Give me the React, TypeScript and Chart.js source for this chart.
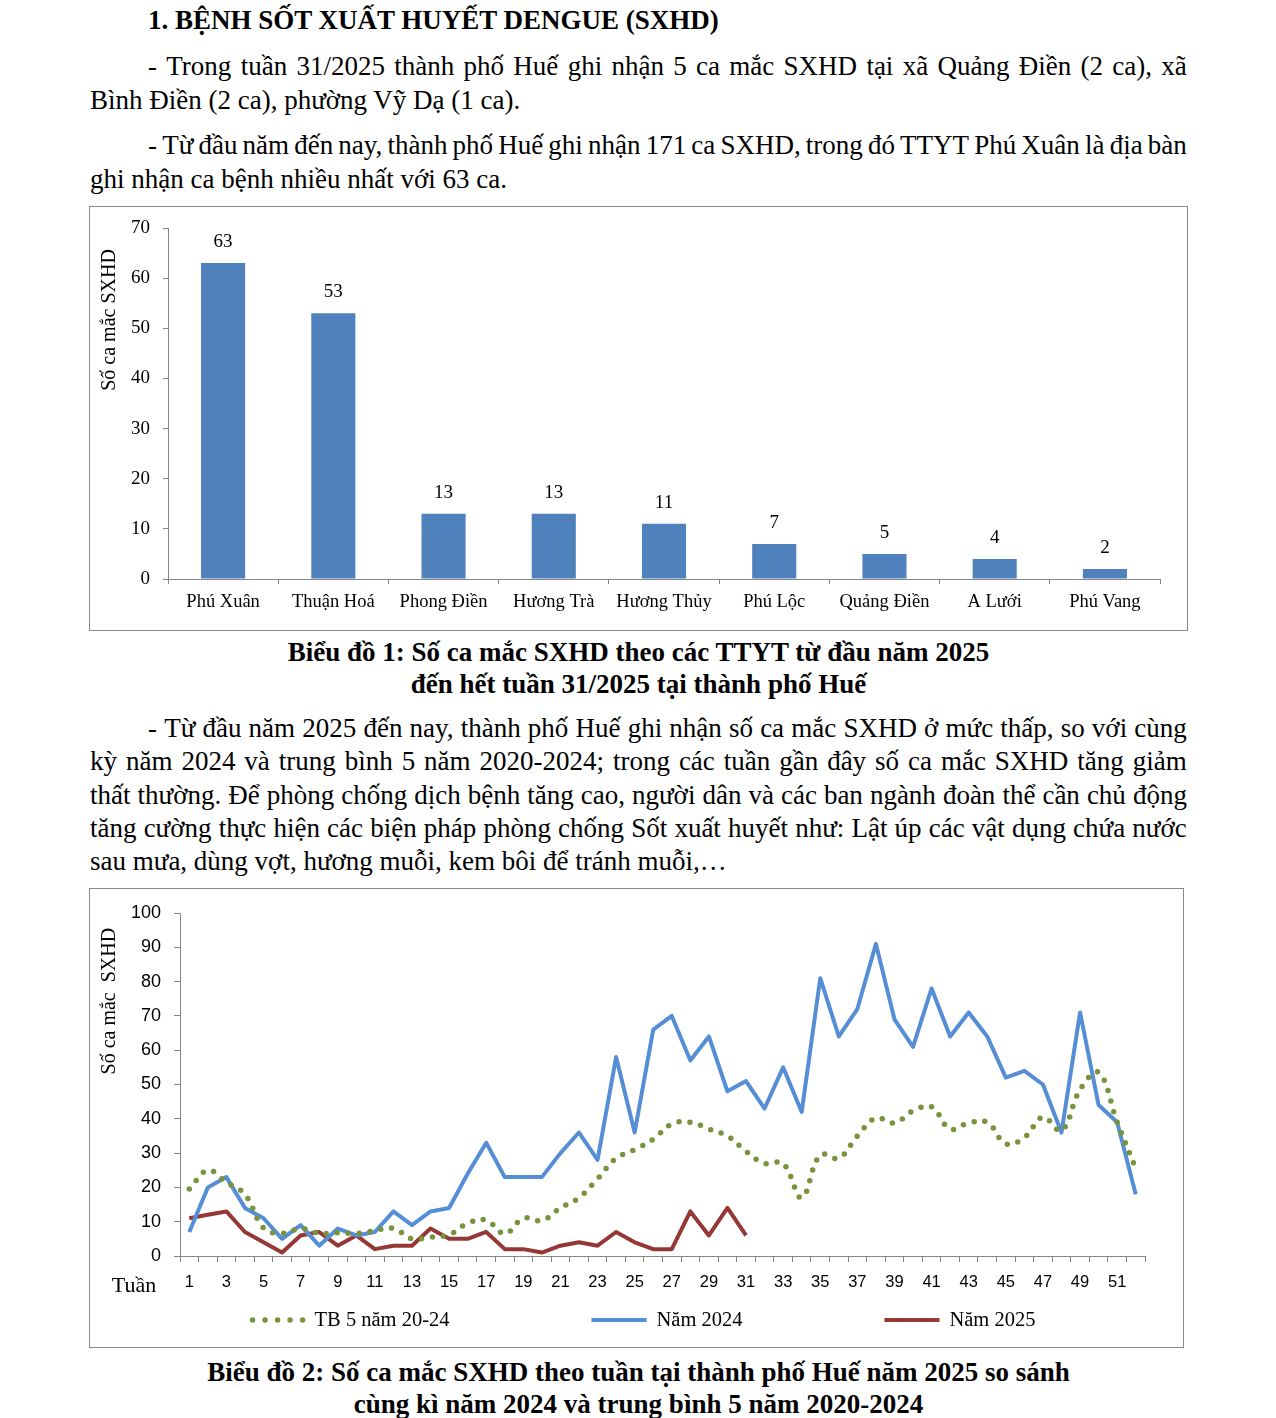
import React, { useEffect, useRef } from 'react';
import { Chart, registerables } from 'chart.js';

Chart.register(...registerables);

const SERIF = '"Liberation Serif", "Times New Roman", serif';
const SANS = '"Liberation Sans", Arial, sans-serif';
const AXIS_GRAY = '#868686';

// ---------- Chart 1 data ----------
const TTYT = ['Phú Xuân', 'Thuận Hoá', 'Phong Điền', 'Hương Trà', 'Hương Thủy', 'Phú Lộc', 'Quảng Điền', 'A Lưới', 'Phú Vang'];
const CASES_BY_TTYT = [63, 53, 13, 13, 11, 7, 5, 4, 2];
const BAR_Y_MAX = 70;
const BAR_Y_STEP = 10;

// ---------- Chart 2 data ----------
const WEEKS = ['1', '2', '3', '4', '5', '6', '7', '8', '9', '10', '11', '12', '13', '14', '15', '16', '17', '18', '19', '20', '21', '22', '23', '24', '25', '26', '27', '28', '29', '30', '31', '32', '33', '34', '35', '36', '37', '38', '39', '40', '41', '42', '43', '44', '45', '46', '47', '48', '49', '50', '51', '52'];
const AVG_2020_2024 = [19.5, 25, 21.5, 18, 8.2, 6.6, 8, 6.6, 6.8, 6.6, 7.4, 8.1, 5, 5.5, 6.2, 9.5, 10.5, 6.5, 11, 10.3, 14, 17, 22.5, 28.5, 31, 34, 38.5, 39, 37, 35, 30.5, 27, 27, 17, 29.5, 28.5, 35, 40.2, 38.8, 42.3, 43.5, 37, 38.8, 39, 32.7, 34.5, 40.5, 36.5, 48.5, 53.5, 39, 25.5];
const YEAR_2024 = [7, 20, 23, 14, 11, 5, 9, 3, 8, 6, 7, 13, 9, 13, 14, 24, 33, 23, 23, 23, 30, 36, 28, 58, 36, 66, 70, 57, 64, 48, 51, 43, 55, 42, 81, 64, 72, 91, 69, 61, 78, 64, 71, 64, 52, 54, 50, 36, 71, 44, 39, 18];
const YEAR_2025 = [11, 12, 13, 7, 4, 1, 6, 7, 3, 6, 2, 3, 3, 8, 5, 5, 7, 2, 2, 1, 3, 4, 3, 7, 4, 2, 2, 13, 6, 14, 6];
const SERIES_NAMES = ['TB 5 năm 20-24', 'Năm 2024', 'Năm 2025'];
const LINE_Y_MAX = 100;
const LINE_Y_STEP = 10;

// ---------- plugins ----------
const yTitlePlugin = {
  id: 'yTitle',
  afterDraw(chart: any, _args: any, opts: any) {
    const { ctx, chartArea } = chart;
    ctx.save();
    ctx.font = `${opts.size}px ${SERIF}`;
    ctx.fillStyle = '#000';
    ctx.textAlign = 'center';
    ctx.textBaseline = 'middle';
    const cy = chartArea.top + (chartArea.bottom - chartArea.top) * opts.frac;
    ctx.translate(chartArea.left - opts.offset, cy);
    ctx.rotate(-Math.PI / 2);
    ctx.fillText(opts.text, 0, 0);
    ctx.restore();
  },
};

const barValuePlugin = {
  id: 'barValues',
  afterDatasetsDraw(chart: any) {
    const { ctx } = chart;
    const meta = chart.getDatasetMeta(0);
    const values = chart.data.datasets[0].data;
    ctx.save();
    ctx.font = `19px ${SERIF}`;
    ctx.fillStyle = '#000';
    ctx.textAlign = 'center';
    ctx.textBaseline = 'middle';
    meta.data.forEach((bar: any, i: number) => {
      ctx.fillText(String(values[i]), bar.x, bar.y - 21);
    });
    ctx.restore();
  },
};

const weekLegendPlugin = {
  id: 'weekLegend',
  afterDraw(chart: any) {
    const { ctx, chartArea } = chart;
    const sampleW = 56;
    const textGap = 9;
    const itemGap = 142;
    ctx.save();
    ctx.font = `20.5px ${SERIF}`;
    const items = chart.data.datasets.map((ds: any) => ({
      ds,
      w: sampleW + textGap + ctx.measureText(ds.label).width,
    }));
    const total = items.reduce((a: number, it: any) => a + it.w, 0) + itemGap * (items.length - 1);
    let x = chart.width / 2 + 6 - total / 2;
    const y = chartArea.bottom + 64;
    items.forEach(({ ds, w }: any) => {
      ctx.strokeStyle = ds.borderColor;
      ctx.fillStyle = ds.borderColor;
      ctx.lineWidth = ds.borderWidth;
      if (ds.borderDash && ds.borderDash.length) {
        const step = (sampleW - 6) / 4;
        for (let k = 0; k < 5; k++) {
          ctx.beginPath();
          ctx.arc(x + 3 + k * step, y, ds.borderWidth / 2, 0, Math.PI * 2);
          ctx.fill();
        }
      } else {
        ctx.beginPath();
        ctx.lineCap = 'butt';
        ctx.moveTo(x, y);
        ctx.lineTo(x + sampleW - 1, y);
        ctx.stroke();
      }
      ctx.fillStyle = '#000';
      ctx.textAlign = 'left';
      ctx.textBaseline = 'middle';
      ctx.fillText(ds.label, x + sampleW + textGap, y + 1);
      x += w + itemGap;
    });
    // "Tuần" axis caption
    ctx.font = `22px ${SERIF}`;
    ctx.fillStyle = '#000';
    ctx.textAlign = 'center';
    ctx.textBaseline = 'middle';
    ctx.fillText('Tuần', chartArea.left - 46, chartArea.bottom + 30);
    ctx.restore();
  },
};

// ---------- chart components ----------
function BarChart() {
  const ref = useRef<HTMLCanvasElement | null>(null);
  useEffect(() => {
    if (!ref.current) return;
    const chart = new Chart(ref.current, {
      type: 'bar',
      data: {
        labels: TTYT,
        datasets: [
          {
            data: CASES_BY_TTYT,
            backgroundColor: '#4F81BD',
            barPercentage: 0.4,
            categoryPercentage: 1,
          },
        ],
      },
      options: {
        animation: false,
        responsive: false,
        maintainAspectRatio: false,
        events: [],
        layout: { padding: { left: 10, top: 21, right: 27, bottom: 0 } },
        plugins: {
          legend: { display: false },
          tooltip: { enabled: false },
          yTitle: { text: 'Số ca mắc SXHD', size: 20, frac: 0.262, offset: 58 },
        } as any,
        scales: {
          x: {
            grid: { drawOnChartArea: false, drawTicks: true, tickLength: 5, color: AXIS_GRAY, offset: true },
            border: { color: AXIS_GRAY },
            ticks: { color: '#000', font: { family: SERIF, size: 18.5 }, padding: 7, autoSkip: false, maxRotation: 0 },
            afterFit: (s: any) => {
              s.height = 51;
            },
          },
          y: {
            min: 0,
            max: BAR_Y_MAX,
            ticks: { stepSize: BAR_Y_STEP, color: '#000', font: { family: SERIF, size: 19 }, padding: 13 },
            grid: { drawOnChartArea: false, drawTicks: true, tickLength: 5, color: AXIS_GRAY },
            border: { color: AXIS_GRAY },
            afterFit: (s: any) => {
              s.width = 68;
              s.paddingTop = 0;
              s.paddingBottom = 0;
            },
          },
        },
      } as any,
      plugins: [barValuePlugin, yTitlePlugin],
    });
    return () => chart.destroy();
  }, []);
  return <canvas ref={ref} width={1097} height={423} style={{ display: 'block', width: 1097, height: 423 }} />;
}

function LineChart() {
  const ref = useRef<HTMLCanvasElement | null>(null);
  useEffect(() => {
    if (!ref.current) return;
    const chart = new Chart(ref.current, {
      type: 'line',
      data: {
        labels: WEEKS,
        datasets: [
          {
            label: SERIES_NAMES[0],
            data: AVG_2020_2024,
            borderColor: '#77933C',
            backgroundColor: '#77933C',
            borderWidth: 5.5,
            borderDash: [0, 11],
            borderCapStyle: 'round',
            tension: 0.4,
            pointRadius: 0,
            fill: false,
          },
          {
            label: SERIES_NAMES[1],
            data: YEAR_2024,
            borderColor: '#558ED5',
            backgroundColor: '#558ED5',
            borderWidth: 4,
            borderJoinStyle: 'round',
            tension: 0,
            pointRadius: 0,
            fill: false,
          },
          {
            label: SERIES_NAMES[2],
            data: YEAR_2025,
            borderColor: '#953735',
            backgroundColor: '#953735',
            borderWidth: 4,
            borderJoinStyle: 'round',
            tension: 0,
            pointRadius: 0,
            fill: false,
          },
        ],
      },
      options: {
        animation: false,
        responsive: false,
        maintainAspectRatio: false,
        events: [],
        layout: { padding: { left: 0, top: 24, right: 38, bottom: 0 } },
        plugins: {
          legend: { display: false },
          tooltip: { enabled: false },
          yTitle: { text: 'Số ca mắc  SXHD', size: 20, frac: 0.257, offset: 70 },
        } as any,
        scales: {
          x: {
            offset: true,
            grid: { drawOnChartArea: false, drawTicks: true, tickLength: 6, color: AXIS_GRAY, offset: true },
            border: { color: AXIS_GRAY },
            ticks: {
              autoSkip: false,
              maxRotation: 0,
              color: '#000',
              font: { family: SANS, size: 16.5 },
              padding: 11,
              callback: (_v: any, i: number) => (i % 2 === 0 ? WEEKS[i] : ''),
            },
            afterFit: (s: any) => {
              s.height = 91;
            },
          },
          y: {
            min: 0,
            max: LINE_Y_MAX,
            ticks: { stepSize: LINE_Y_STEP, color: '#000', font: { family: SANS, size: 18 }, padding: 13 },
            grid: { drawOnChartArea: false, drawTicks: true, tickLength: 6, color: AXIS_GRAY },
            border: { color: AXIS_GRAY },
            afterFit: (s: any) => {
              s.width = 90;
              s.paddingTop = 0;
              s.paddingBottom = 0;
            },
          },
        },
      } as any,
      plugins: [yTitlePlugin, weekLegendPlugin],
    });
    return () => chart.destroy();
  }, []);
  return <canvas ref={ref} width={1093} height={458} style={{ display: 'block', width: 1093, height: 458 }} />;
}

// ---------- text helpers ----------
type LineSpec = { text: string; justify?: boolean; indent?: number };

function Para({ top, lineHeight, lines, bold, center }: { top: number; lineHeight: number; lines: LineSpec[]; bold?: boolean; center?: boolean }) {
  return (
    <div
      style={{
        position: 'absolute',
        left: 90,
        width: 1097,
        top,
        lineHeight: `${lineHeight}px`,
        fontSize: 27,
        fontFamily: SERIF,
        fontWeight: bold ? 'bold' : 'normal',
        color: '#000',
        textAlign: center ? 'center' : 'left',
      }}
    >
      {lines.map((l, i) =>
        l.justify ? (
          <div key={i} style={{ display: 'flex', justifyContent: 'space-between', whiteSpace: 'pre', paddingLeft: l.indent || 0 }}>
            {l.text.split(' ').map((w, j) => (
              <span key={j}>{w}</span>
            ))}
          </div>
        ) : (
          <div key={i} style={{ whiteSpace: 'pre', paddingLeft: l.indent || 0 }}>
            {l.text}
          </div>
        )
      )}
    </div>
  );
}

export default function App() {
  return (
    <div style={{ position: 'absolute', left: 0, top: 0, width: 1276, height: 1418, background: '#fff', overflow: 'hidden' }}>
      <div
        style={{
          position: 'absolute',
          left: 148,
          top: 3,
          fontFamily: SERIF,
          fontWeight: 'bold',
          fontSize: 27,
          lineHeight: '34px',
          whiteSpace: 'pre',
        }}
      >
        1. BỆNH SỐT XUẤT HUYẾT DENGUE (SXHD)
      </div>

      <Para
        top={49}
        lineHeight={34}
        lines={[
          { text: '- Trong tuần 31/2025 thành phố Huế ghi nhận 5 ca mắc SXHD tại xã Quảng Điền (2 ca), xã', justify: true, indent: 58 },
          { text: 'Bình Điền (2 ca), phường Vỹ Dạ (1 ca).' },
        ]}
      />
      <Para
        top={128}
        lineHeight={34}
        lines={[
          { text: '- Từ đầu năm đến nay, thành phố Huế ghi nhận 171 ca SXHD, trong đó TTYT Phú Xuân là địa bàn', justify: true, indent: 58 },
          { text: 'ghi nhận ca bệnh nhiều nhất với 63 ca.' },
        ]}
      />

      <div style={{ position: 'absolute', left: 89, top: 206, width: 1099, height: 425, boxSizing: 'border-box', border: '1px solid #8a8a8a', background: '#fff' }}>
        <BarChart />
      </div>

      <Para
        top={636}
        lineHeight={32}
        bold
        center
        lines={[{ text: 'Biểu đồ 1: Số ca mắc SXHD theo các TTYT từ đầu năm 2025' }, { text: 'đến hết tuần 31/2025 tại thành phố Huế' }]}
      />

      <Para
        top={712}
        lineHeight={33.25}
        lines={[
          { text: '- Từ đầu năm 2025 đến nay, thành phố Huế ghi nhận số ca mắc SXHD ở mức thấp, so với cùng', justify: true, indent: 58 },
          { text: 'kỳ năm 2024 và trung bình 5 năm 2020-2024; trong các tuần gần đây số ca mắc SXHD tăng giảm', justify: true },
          { text: 'thất thường. Để phòng chống dịch bệnh tăng cao, người dân và các ban ngành đoàn thể cần chủ động', justify: true },
          { text: 'tăng cường thực hiện các biện pháp phòng chống Sốt xuất huyết như: Lật úp các vật dụng chứa nước', justify: true },
          { text: 'sau mưa, dùng vợt, hương muỗi, kem bôi để tránh muỗi,…' },
        ]}
      />

      <div style={{ position: 'absolute', left: 89, top: 888, width: 1095, height: 460, boxSizing: 'border-box', border: '1px solid #8a8a8a', background: '#fff' }}>
        <LineChart />
      </div>

      <Para
        top={1356}
        lineHeight={32}
        bold
        center
        lines={[
          { text: 'Biểu đồ 2: Số ca mắc SXHD theo tuần tại thành phố Huế năm 2025 so sánh' },
          { text: 'cùng kì năm 2024 và trung bình 5 năm 2020-2024' },
        ]}
      />
    </div>
  );
}
